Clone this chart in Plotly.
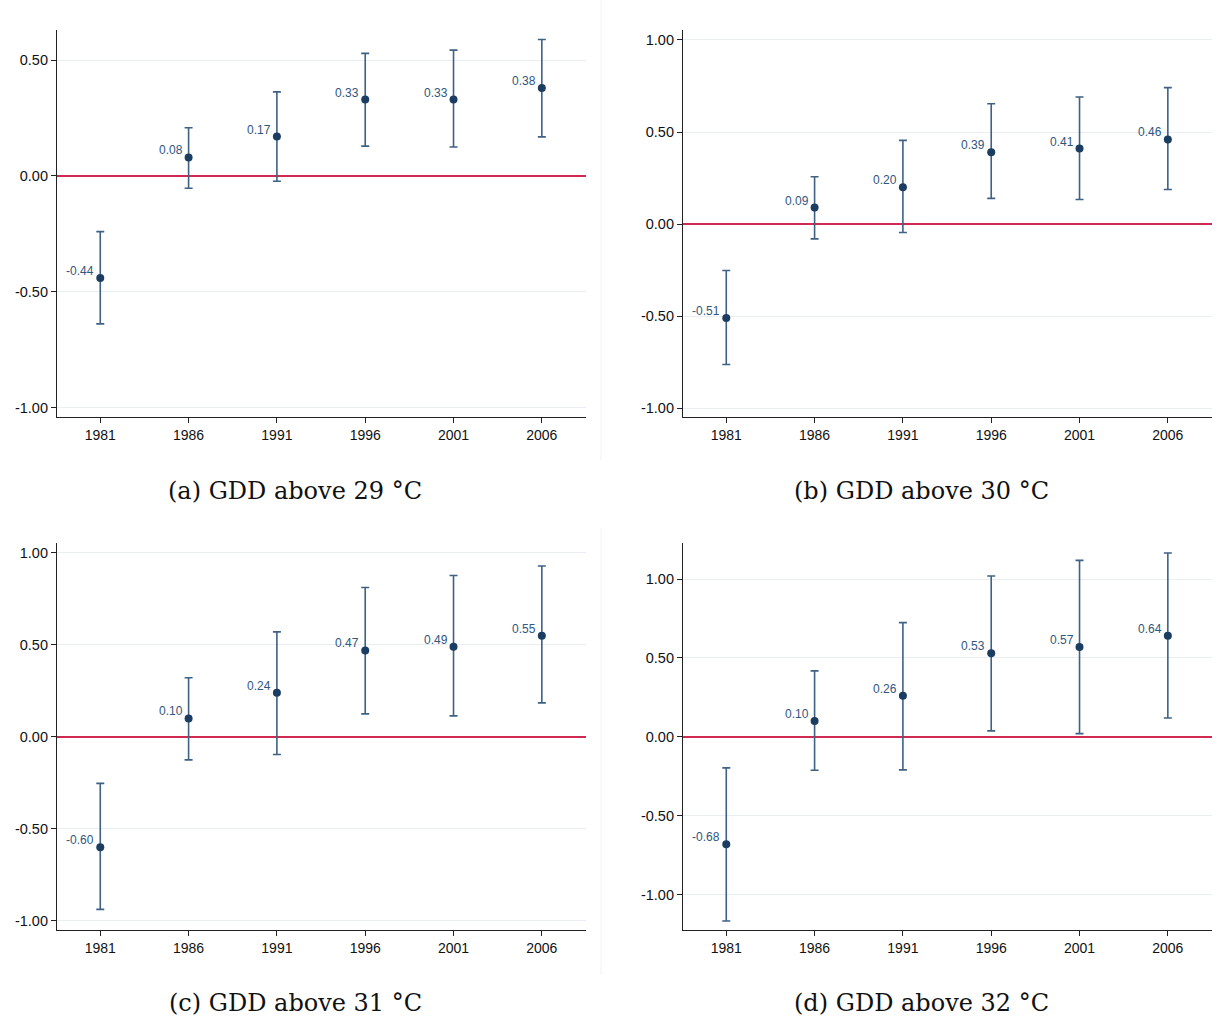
import plotly.graph_objects as go

years = [1981, 1986, 1991, 1996, 2001, 2006]

coef_29 = [-0.44, 0.08, 0.17, 0.33, 0.33, 0.38]
hi_29 = [-0.24, 0.208, 0.363, 0.529, 0.543, 0.589]
lo_29 = [-0.638, -0.053, -0.023, 0.129, 0.125, 0.169]

coef_30 = [-0.51, 0.09, 0.20, 0.39, 0.41, 0.46]
hi_30 = [-0.252, 0.257, 0.455, 0.654, 0.690, 0.741]
lo_30 = [-0.762, -0.080, -0.045, 0.140, 0.134, 0.188]

coef_31 = [-0.60, 0.10, 0.24, 0.47, 0.49, 0.55]
hi_31 = [-0.253, 0.321, 0.571, 0.812, 0.877, 0.929]
lo_31 = [-0.938, -0.125, -0.096, 0.125, 0.114, 0.185]

coef_32 = [-0.68, 0.10, 0.26, 0.53, 0.57, 0.64]
hi_32 = [-0.196, 0.418, 0.724, 1.019, 1.118, 1.165]
lo_32 = [-1.166, -0.211, -0.209, 0.038, 0.021, 0.120]

captions = ["(a) GDD above 29 °C", "(b) GDD above 30 °C",
            "(c) GDD above 31 °C", "(d) GDD above 32 °C"]

panels = [
    (coef_29, hi_29, lo_29, [-1.04, 0.63], [-1.0, -0.5, 0.0, 0.5]),
    (coef_30, hi_30, lo_30, [-1.047, 1.054], [-1.0, -0.5, 0.0, 0.5, 1.0]),
    (coef_31, hi_31, lo_31, [-1.05, 1.054], [-1.0, -0.5, 0.0, 0.5, 1.0]),
    (coef_32, hi_32, lo_32, [-1.223, 1.228], [-1.0, -0.5, 0.0, 0.5, 1.0]),
]

W, H = 1224, 1018
xdoms = [[57 / W, 586 / W], [683 / W, 1212 / W]]
ydoms = [[1 - 417 / H, 1 - 30 / H], [1 - 930 / H, 1 - 543 / H]]
cap_x = [295 / W, 921 / W]
cap_y = [1 - 491 / H, 1 - 1003 / H]

MARK = "#1b3d61"
BAR = "#3f6184"
LAB = "#2f5680"
ZERO = "#d02a52"
GRID = "#e8eef2"
SANS = "Liberation Sans, Arial"

fig = go.Figure()
annotations = []
shapes = []

for i, (coef, hi, lo, yr, yt) in enumerate(panels):
    r, c = divmod(i, 2)
    n = i + 1
    xa = "x" if n == 1 else f"x{n}"
    ya = "y" if n == 1 else f"y{n}"
    plus = [h - v for h, v in zip(hi, coef)]
    minus = [v - l for v, l in zip(coef, lo)]
    fig.add_trace(go.Scatter(
        x=years, y=coef, mode="markers",
        marker=dict(color=MARK, size=8),
        error_y=dict(type="data", symmetric=False, array=plus, arrayminus=minus,
                     color=BAR, thickness=1.6, width=4),
        xaxis=xa, yaxis=ya, showlegend=False, cliponaxis=False,
    ))
    for yv, v in zip(years, coef):
        annotations.append(dict(
            x=yv, y=v, xref=xa, yref=ya, text=f"{v:.2f}", showarrow=False,
            xanchor="right", yanchor="middle", xshift=-4, yshift=7,
            font=dict(family=SANS, size=12, color=LAB)))
    xkey = "xaxis" if n == 1 else f"xaxis{n}"
    ykey = "yaxis" if n == 1 else f"yaxis{n}"
    fig.update_layout(**{
        xkey: dict(domain=xdoms[c], anchor=ya, range=[1978.55, 2008.5],
                   tickvals=years, ticktext=[str(y) for y in years],
                   showgrid=False, zeroline=False, showline=True,
                   linecolor="#222222", linewidth=1.2, ticks="outside",
                   ticklen=5, tickcolor="#222222",
                   tickfont=dict(family=SANS, size=14, color="#111111")),
        ykey: dict(domain=ydoms[r], anchor=xa, range=yr, tickvals=yt,
                   ticktext=[f"{t:.2f}" for t in yt],
                   showgrid=True, gridcolor=GRID, gridwidth=1,
                   zeroline=True, zerolinecolor=ZERO, zerolinewidth=1.6,
                   showline=True, linecolor="#222222", linewidth=1.2,
                   ticks="outside", ticklen=5, tickcolor="#222222",
                   tickfont=dict(family=SANS, size=14.5, color="#111111")),
    })
    annotations.append(dict(
        text=captions[i], x=cap_x[c], y=cap_y[r], xref="paper", yref="paper",
        xanchor="center", yanchor="middle", showarrow=False,
        font=dict(family="DejaVu Serif", size=24, color="#111111")))

shapes.append(dict(type="line", xref="paper", yref="paper", x0=601 / W, x1=601 / W,
                   y0=1 - 460 / H, y1=1.0, line=dict(color="#f2f2f2", width=1)))
shapes.append(dict(type="line", xref="paper", yref="paper", x0=601 / W, x1=601 / W,
                   y0=1 - 975 / H, y1=1 - 528 / H, line=dict(color="#f2f2f2", width=1)))

fig.update_layout(
    width=W, height=H, margin=dict(l=0, r=0, t=0, b=0),
    paper_bgcolor="white", plot_bgcolor="white",
    annotations=annotations, shapes=shapes,
)

fig.write_html("out.html", config={"displayModeBar": False},
               post_script="document.body.style.margin='0';")
